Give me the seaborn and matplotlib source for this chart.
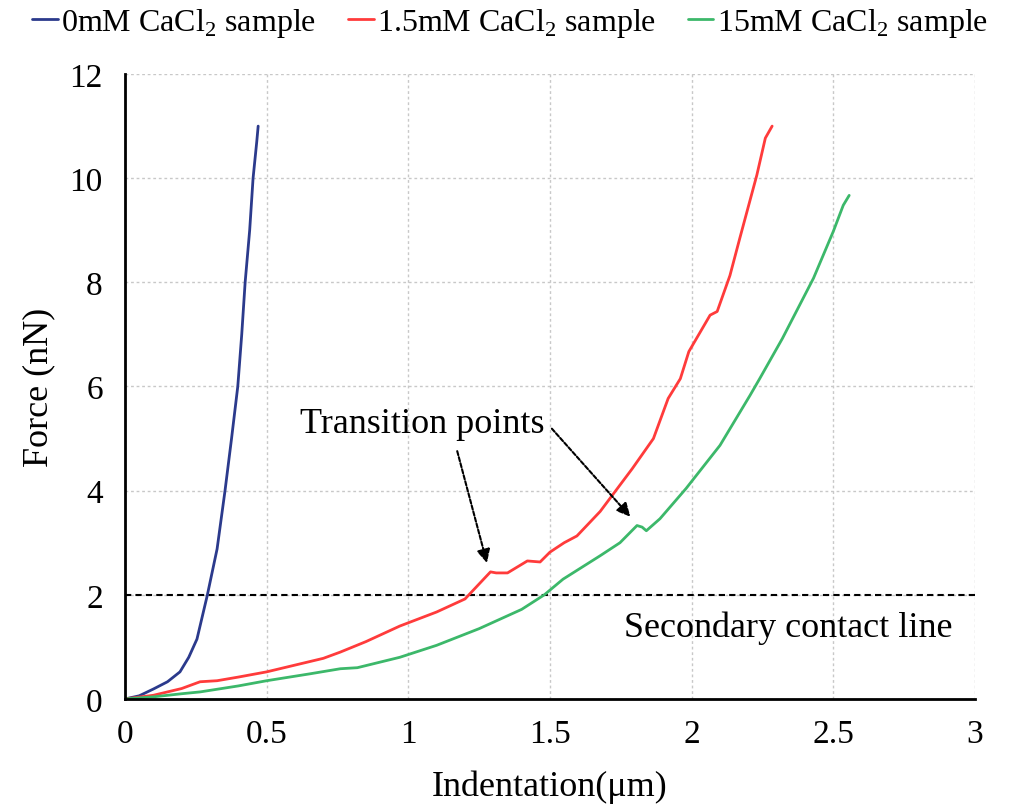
import matplotlib
matplotlib.use("Agg")
import matplotlib.pyplot as plt
import seaborn as sns
import pandas as pd

# values
x_0mM = [0, 0.05, 0.10, 0.15, 0.194, 0.225, 0.254, 0.29, 0.325, 0.353, 0.376, 0.398, 0.412, 0.424, 0.44, 0.452, 0.465, 0.47]
y_0mM = [0, 0.06, 0.19, 0.33, 0.52, 0.8, 1.15, 1.98, 2.88, 4.0, 5.0, 6.0, 7.0, 8.0, 9.0, 10.0, 10.7, 11.0]

x_15mM_low = [0, 0.1, 0.2, 0.265, 0.325, 0.4, 0.5, 0.6, 0.7, 0.76, 0.85, 0.97, 1.1, 1.2, 1.29, 1.31, 1.35,
              1.42, 1.465, 1.5, 1.55, 1.595, 1.677, 1.79, 1.865, 1.917, 1.96, 1.99, 2.065, 2.09, 2.135,
              2.17, 2.23, 2.26, 2.284]
y_15mM_low = [0, 0.07, 0.2, 0.33, 0.35, 0.42, 0.52, 0.65, 0.78, 0.9, 1.1, 1.4, 1.67, 1.92, 2.44, 2.42, 2.42,
              2.65, 2.63, 2.82, 3.0, 3.13, 3.6, 4.42, 5.0, 5.77, 6.15, 6.67, 7.37, 7.44, 8.13,
              8.85, 10.06, 10.77, 11.0]

x_15mM = [0, 0.1, 0.2, 0.265, 0.4, 0.5, 0.65, 0.76, 0.82, 0.97, 1.1, 1.25, 1.4, 1.48, 1.546, 1.677, 1.747,
          1.807, 1.825, 1.84, 1.888, 1.98, 2.1, 2.206, 2.24, 2.32, 2.43, 2.5, 2.535, 2.556]
y_15mM = [0, 0.04, 0.1, 0.135, 0.25, 0.35, 0.48, 0.58, 0.6, 0.8, 1.03, 1.35, 1.72, 2.0, 2.3, 2.75, 3.0,
          3.33, 3.3, 3.23, 3.46, 4.04, 4.87, 5.83, 6.15, 6.92, 8.08, 8.98, 9.48, 9.67]

labels = ["0mM CaCl$_2$ sample", "1.5mM CaCl$_2$ sample", "15mM CaCl$_2$ sample"]
colors = ["#2b3a8c", "#ff3b3b", "#3cb86a"]

df = pd.concat([
    pd.DataFrame({"x": x_0mM, "y": y_0mM, "sample": labels[0]}),
    pd.DataFrame({"x": x_15mM_low, "y": y_15mM_low, "sample": labels[1]}),
    pd.DataFrame({"x": x_15mM, "y": y_15mM, "sample": labels[2]}),
])

sns.set_style("white")
plt.rcParams["font.family"] = ["Liberation Serif", "DejaVu Serif"]
plt.rcParams["mathtext.fontset"] = "custom"
plt.rcParams["mathtext.rm"] = "Liberation Serif"
plt.rcParams["text.color"] = "black"
plt.rcParams["axes.labelcolor"] = "black"
plt.rcParams["xtick.color"] = "black"
plt.rcParams["ytick.color"] = "black"

fig = plt.figure(figsize=(10.13, 8.12), dpi=100)
ax = fig.add_axes([0.1234, 0.138, 0.8391, 0.7696])

sns.lineplot(data=df, x="x", y="y", hue="sample", palette=colors, sort=False,
             estimator=None, linewidth=2, ax=ax)

# secondary contact line
ax.axhline(2, color="black", linestyle=(0, (3, 2)), linewidth=1.5, zorder=1)
ax.text(2.34, 1.38, "Secondary contact line", fontsize=26, ha="center", va="center")

ax.text(1.05, 5.29, "Transition points", fontsize=26, ha="center", va="center")
arrow = dict(arrowstyle="-|>", color="black", lw=1.5, linestyle=(0, (2, 1)), mutation_scale=20)
ax.annotate("", xy=(1.28, 2.56), xytext=(1.17, 4.81), arrowprops=arrow)
ax.annotate("", xy=(1.79, 3.46), xytext=(1.5, 5.23), arrowprops=arrow)

ax.set_xlim(0, 3)
ax.set_ylim(0, 12)
ax.set_xticks([0, 0.5, 1, 1.5, 2, 2.5, 3])
ax.set_xticklabels(["0", "0.5", "1", "1.5", "2", "2.5", "3"])
ax.set_yticks(range(0, 13, 2))
ax.grid(True, color="#c8c8c8", linestyle=(0, (2, 2)), linewidth=1)
ax.tick_params(labelsize=24, length=0)
ax.tick_params(axis="x", pad=14)
ax.tick_params(axis="y", pad=16)
for s in ["top", "right"]:
    ax.spines[s].set_visible(False)
for s in ["left", "bottom"]:
    ax.spines[s].set_color("black")
    ax.spines[s].set_linewidth(2)

ax.set_xlabel("Indentation(μm)", fontsize=26, labelpad=15)
ax.set_ylabel("Force (nN)", fontsize=26, labelpad=10)

handles, lbls = ax.get_legend_handles_labels()
ax.legend(handles, lbls, loc="lower center", bbox_to_anchor=(0.453, 1.0), ncol=3, frameon=False,
          fontsize=23, handlelength=0.8, handletextpad=0.1, columnspacing=1.0, borderaxespad=0.7)

fig.savefig("out.png", dpi=100)
